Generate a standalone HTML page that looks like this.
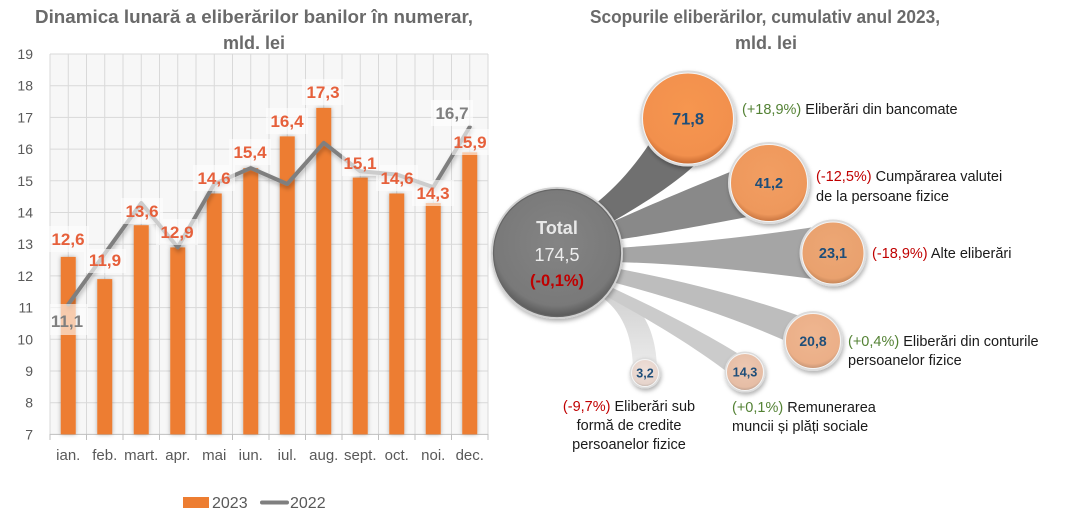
<!DOCTYPE html>
<html><head><meta charset="utf-8"><style>
html,body{margin:0;padding:0;background:#fff;}
svg{display:block;font-family:"Liberation Sans",sans-serif;}
</style></head><body>
<svg width="1070" height="522" viewBox="0 0 1070 522" xmlns="http://www.w3.org/2000/svg">
<defs>
<filter id="bsh" x="-50%" y="-10%" width="200%" height="120%"><feDropShadow dx="0" dy="0" stdDeviation="2" flood-color="#000" flood-opacity="0.3"/></filter>
<filter id="lsh" x="-10%" y="-20%" width="120%" height="150%"><feDropShadow dx="1" dy="3" stdDeviation="2" flood-color="#000" flood-opacity="0.25"/></filter>
<filter id="csh" x="-30%" y="-30%" width="160%" height="160%"><feDropShadow dx="1" dy="2.5" stdDeviation="2" flood-color="#000" flood-opacity="0.3"/></filter>
<radialGradient id="gT" cx="50%" cy="42%" r="58%"><stop offset="0" stop-color="#848484"/><stop offset="0.85" stop-color="#797979"/><stop offset="1" stop-color="#595959"/></radialGradient>
<radialGradient id="g1" cx="50%" cy="40%" r="60%"><stop offset="0" stop-color="#F6964F"/><stop offset="0.85" stop-color="#F2904D"/><stop offset="1" stop-color="#C86A30"/></radialGradient>
<radialGradient id="g2" cx="50%" cy="40%" r="60%"><stop offset="0" stop-color="#F29E62"/><stop offset="0.85" stop-color="#EE985C"/><stop offset="1" stop-color="#C8743F"/></radialGradient>
<radialGradient id="g3" cx="50%" cy="40%" r="60%"><stop offset="0" stop-color="#EDA775"/><stop offset="0.85" stop-color="#E9A16E"/><stop offset="1" stop-color="#C48558"/></radialGradient>
<radialGradient id="g4" cx="50%" cy="40%" r="60%"><stop offset="0" stop-color="#EFB690"/><stop offset="0.85" stop-color="#EBAF88"/><stop offset="1" stop-color="#C69576"/></radialGradient>
<radialGradient id="g5" cx="50%" cy="40%" r="60%"><stop offset="0" stop-color="#EDC8B2"/><stop offset="0.85" stop-color="#E6BDA5"/><stop offset="1" stop-color="#BFA08E"/></radialGradient>
<radialGradient id="g6" cx="50%" cy="40%" r="60%"><stop offset="0" stop-color="#EEE0DA"/><stop offset="0.85" stop-color="#E6D4CC"/><stop offset="1" stop-color="#C0B2AB"/></radialGradient>
<linearGradient id="gF" x1="0" y1="0" x2="0" y2="1"><stop offset="0" stop-color="#CFCFCF"/><stop offset="1" stop-color="#EDEDED"/></linearGradient>
</defs>

<!-- LEFT CHART -->
<text x="254" y="23" text-anchor="middle" font-size="18" font-weight="bold" fill="#6A6A6A" textLength="438" lengthAdjust="spacingAndGlyphs">Dinamica lunară a eliberărilor banilor în numerar,</text>
<text x="254" y="49" text-anchor="middle" font-size="18" font-weight="bold" fill="#6A6A6A">mld. lei</text>

<rect x="50" y="54" width="438" height="380.4" fill="#F7F7F7"/>
<g stroke="#D9D9D9" stroke-width="1">
<line x1="50" y1="54" x2="488" y2="54"/><line x1="50" y1="85.7" x2="488" y2="85.7"/><line x1="50" y1="117.4" x2="488" y2="117.4"/><line x1="50" y1="149.1" x2="488" y2="149.1"/><line x1="50" y1="180.8" x2="488" y2="180.8"/><line x1="50" y1="212.5" x2="488" y2="212.5"/><line x1="50" y1="244.2" x2="488" y2="244.2"/><line x1="50" y1="275.9" x2="488" y2="275.9"/><line x1="50" y1="307.6" x2="488" y2="307.6"/><line x1="50" y1="339.3" x2="488" y2="339.3"/><line x1="50" y1="371" x2="488" y2="371"/><line x1="50" y1="402.7" x2="488" y2="402.7"/>
<line x1="50" y1="54" x2="50" y2="434"/><line x1="68.25" y1="54" x2="68.25" y2="434"/><line x1="86.5" y1="54" x2="86.5" y2="434"/><line x1="104.75" y1="54" x2="104.75" y2="434"/><line x1="123" y1="54" x2="123" y2="434"/><line x1="141.25" y1="54" x2="141.25" y2="434"/><line x1="159.5" y1="54" x2="159.5" y2="434"/><line x1="177.75" y1="54" x2="177.75" y2="434"/><line x1="196" y1="54" x2="196" y2="434"/><line x1="214.25" y1="54" x2="214.25" y2="434"/><line x1="232.5" y1="54" x2="232.5" y2="434"/><line x1="250.75" y1="54" x2="250.75" y2="434"/><line x1="269" y1="54" x2="269" y2="434"/><line x1="287.25" y1="54" x2="287.25" y2="434"/><line x1="305.5" y1="54" x2="305.5" y2="434"/><line x1="323.75" y1="54" x2="323.75" y2="434"/><line x1="342" y1="54" x2="342" y2="434"/><line x1="360.25" y1="54" x2="360.25" y2="434"/><line x1="378.5" y1="54" x2="378.5" y2="434"/><line x1="396.75" y1="54" x2="396.75" y2="434"/><line x1="415" y1="54" x2="415" y2="434"/><line x1="433.25" y1="54" x2="433.25" y2="434"/><line x1="451.5" y1="54" x2="451.5" y2="434"/><line x1="469.75" y1="54" x2="469.75" y2="434"/><line x1="488" y1="54" x2="488" y2="434"/>
</g>
<g stroke="#BFBFBF" stroke-width="1">
<line x1="50" y1="434.4" x2="488" y2="434.4"/>
<line x1="50" y1="434" x2="50" y2="440"/><line x1="86.5" y1="434" x2="86.5" y2="440"/><line x1="123" y1="434" x2="123" y2="440"/><line x1="159.5" y1="434" x2="159.5" y2="440"/><line x1="196" y1="434" x2="196" y2="440"/><line x1="232.5" y1="434" x2="232.5" y2="440"/><line x1="269" y1="434" x2="269" y2="440"/><line x1="305.5" y1="434" x2="305.5" y2="440"/><line x1="342" y1="434" x2="342" y2="440"/><line x1="378.5" y1="434" x2="378.5" y2="440"/><line x1="415" y1="434" x2="415" y2="440"/><line x1="451.5" y1="434" x2="451.5" y2="440"/><line x1="488" y1="434" x2="488" y2="440"/>
</g>

<g font-size="14" fill="#595959" text-anchor="end">
<text x="33" y="59">19</text><text x="33" y="90.7">18</text><text x="33" y="122.4">17</text><text x="33" y="154.1">16</text><text x="33" y="185.8">15</text><text x="33" y="217.5">14</text><text x="33" y="249.2">13</text><text x="33" y="280.9">12</text><text x="33" y="312.6">11</text><text x="33" y="344.3">10</text><text x="33" y="376">9</text><text x="33" y="407.7">8</text><text x="33" y="439.4">7</text>
</g>
<g font-size="15" fill="#595959" text-anchor="middle">
<text x="68.25" y="460">ian.</text><text x="104.75" y="460">feb.</text><text x="141.25" y="460">mart.</text><text x="177.75" y="460">apr.</text><text x="214.25" y="460">mai</text><text x="250.75" y="460">iun.</text><text x="287.25" y="460">iul.</text><text x="323.75" y="460">aug.</text><text x="360.25" y="460">sept.</text><text x="396.75" y="460">oct.</text><text x="433.25" y="460">noi.</text><text x="469.75" y="460">dec.</text>
</g>

<g fill="#ED7D31" filter="url(#bsh)">
<rect x="60.75" y="256.9" width="15" height="177.5"/>
<rect x="97.25" y="279.1" width="15" height="155.3"/>
<rect x="133.75" y="225.2" width="15" height="209.2"/>
<rect x="170.25" y="247.4" width="15" height="187"/>
<rect x="206.75" y="193.5" width="15" height="240.9"/>
<rect x="243.25" y="168.1" width="15" height="266.3"/>
<rect x="279.75" y="136.4" width="15" height="298"/>
<rect x="316.25" y="107.9" width="15" height="326.5"/>
<rect x="352.75" y="177.6" width="15" height="256.8"/>
<rect x="389.25" y="193.5" width="15" height="240.9"/>
<rect x="425.75" y="203" width="15" height="231.4"/>
<rect x="462.25" y="152.3" width="15" height="282.1"/>
</g>

<polyline filter="url(#lsh)" fill="none" stroke="#7F7F7F" stroke-width="4" stroke-linejoin="round" stroke-linecap="round" points="68.25,304.4 104.75,253.7 141.25,203 177.75,247.4 214.25,184 250.75,168.1 287.25,184 323.75,142.8 360.25,171.3 396.75,174.5 433.25,187.1 469.75,126.9"/>

<g fill="#fff" opacity="0.6">
<rect x="47" y="226" width="42" height="26"/>
<rect x="84" y="249" width="42" height="24"/>
<rect x="121" y="198" width="42" height="26"/>
<rect x="156" y="219" width="42" height="26"/>
<rect x="193" y="165" width="42" height="26"/>
<rect x="229" y="139" width="42" height="26"/>
<rect x="266" y="108" width="42" height="26"/>
<rect x="302" y="79" width="42" height="26"/>
<rect x="342" y="150" width="38" height="26"/>
<rect x="376" y="165" width="42" height="26"/>
<rect x="412" y="180" width="42" height="26"/>
<rect x="452" y="129" width="38" height="26"/>
<rect x="431" y="100" width="42" height="26"/>
<rect x="50" y="304" width="38" height="31"/>
</g>
<g font-size="17" font-weight="bold" fill="#E6603B" text-anchor="middle">
<text x="68" y="245">12,6</text>
<text x="105" y="266">11,9</text>
<text x="142" y="217">13,6</text>
<text x="177" y="238">12,9</text>
<text x="214" y="184">14,6</text>
<text x="250" y="158">15,4</text>
<text x="287" y="127">16,4</text>
<text x="323" y="98">17,3</text>
<text x="360" y="169">15,1</text>
<text x="397" y="184">14,6</text>
<text x="433" y="199">14,3</text>
<text x="470" y="148">15,9</text>
</g>
<g font-size="17" font-weight="bold" fill="#7F7F7F" text-anchor="middle">
<text x="452" y="119">16,7</text>
<text x="67" y="327">11,1</text>
</g>

<rect x="183" y="497" width="26" height="11" fill="#ED7D31"/>
<text x="212" y="508" font-size="16" fill="#595959">2023</text>
<line x1="262" y1="502.5" x2="287" y2="502.5" stroke="#7F7F7F" stroke-width="4" stroke-linecap="round"/>
<text x="290" y="508" font-size="16" fill="#595959">2022</text>

<!-- RIGHT CHART -->
<text x="765" y="23" text-anchor="middle" font-size="18" font-weight="bold" fill="#6A6A6A" textLength="350" lengthAdjust="spacingAndGlyphs">Scopurile eliberărilor, cumulativ anul 2023,</text>
<text x="766" y="49" text-anchor="middle" font-size="18" font-weight="bold" fill="#6A6A6A">mld. lei</text>

<!-- connectors -->
<path d="M603,298 C625,315 633,340 633,372 L657,372 C657,335 645,305 612,288 Z" fill="url(#gF)"/>
<path d="M604,284 C650,305 710,335 748,360 L735,378 C700,350 650,320 602,294 Z" fill="#CBCBCB"/>
<path d="M614,268 C680,280 750,298 805,318 L795,345 C740,320 680,300 612,282 Z" fill="#BDBDBD"/>
<path d="M615,248 C680,244 760,236 820,226 L820,280 C760,272 690,264 615,262 Z" fill="#A5A5A5"/>
<path d="M612,222 C650,205 690,188 740,168 L758,215 C720,222 670,232 616,240 Z" fill="#898989"/>
<path d="M594,205 C615,188 635,167 655,135 L700,160 C680,180 650,200 612,222 Z" fill="#707070"/>

<!-- total -->
<g filter="url(#csh)">
<circle cx="557" cy="253" r="66" fill="#D0D0D0"/>
</g>
<circle cx="557" cy="253" r="63.5" fill="url(#gT)" stroke="#666" stroke-width="1.2"/>
<text x="557" y="234" text-anchor="middle" font-size="18" font-weight="bold" fill="#E8E8E8">Total</text>
<text x="557" y="261" text-anchor="middle" font-size="18" fill="#EDEDED">174,5</text>
<text x="557" y="286" text-anchor="middle" font-size="16.5" font-weight="bold" fill="#C00000">(-0,1%)</text>

<!-- bubbles -->
<g filter="url(#csh)">
<circle cx="688" cy="118.5" r="48" fill="#DCDCDC"/>
<circle cx="769" cy="183" r="41" fill="#DCDCDC"/>
<circle cx="833" cy="253" r="33.5" fill="#DCDCDC"/>
<circle cx="813" cy="341" r="30" fill="#DCDCDC"/>
<circle cx="745" cy="372" r="20.5" fill="#DCDCDC"/>
<circle cx="645" cy="373" r="15.5" fill="#DCDCDC"/>
</g>
<circle cx="688" cy="118.5" r="45.5" fill="url(#g1)" stroke="#F5F5F5" stroke-width="1"/>
<circle cx="769" cy="183" r="38.5" fill="url(#g2)" stroke="#F5F5F5" stroke-width="1"/>
<circle cx="833" cy="253" r="31" fill="url(#g3)" stroke="#F5F5F5" stroke-width="1"/>
<circle cx="813" cy="341" r="27.5" fill="url(#g4)" stroke="#F5F5F5" stroke-width="1"/>
<circle cx="745" cy="372" r="18.5" fill="url(#g5)" stroke="#F5F5F5" stroke-width="1"/>
<circle cx="645" cy="373" r="13.5" fill="url(#g6)" stroke="#F5F5F5" stroke-width="1"/>

<g font-weight="bold" fill="#1F4E79" text-anchor="middle">
<text x="688" y="124.5" font-size="16.5">71,8</text>
<text x="769" y="188" font-size="14.5">41,2</text>
<text x="833" y="258" font-size="14.5">23,1</text>
<text x="813" y="346" font-size="14">20,8</text>
<text x="745" y="376.5" font-size="12.7">14,3</text>
<text x="645" y="377.5" font-size="12.5">3,2</text>
</g>

<g font-size="14.5" fill="#1A1A1A">
<text x="742" y="114"><tspan fill="#548235">(+18,9%)</tspan> Eliberări din bancomate</text>
<text x="816" y="181"><tspan fill="#C00000">(-12,5%)</tspan> Cumpărarea valutei</text>
<text x="816" y="201">de la persoane fizice</text>
<text x="872" y="258"><tspan fill="#C00000">(-18,9%)</tspan> Alte eliberări</text>
<text x="848" y="346"><tspan fill="#548235">(+0,4%)</tspan> Eliberări din conturile</text>
<text x="848" y="365">persoanelor fizice</text>
<text x="732" y="412"><tspan fill="#548235">(+0,1%)</tspan> Remunerarea</text>
<text x="732" y="431">muncii și plăți sociale</text>
<text x="629" y="411" text-anchor="middle"><tspan fill="#C00000">(-9,7%)</tspan> Eliberări sub</text>
<text x="629" y="430" text-anchor="middle">formă de credite</text>
<text x="629" y="449" text-anchor="middle">persoanelor fizice</text>
</g>
</svg>
</body></html>
